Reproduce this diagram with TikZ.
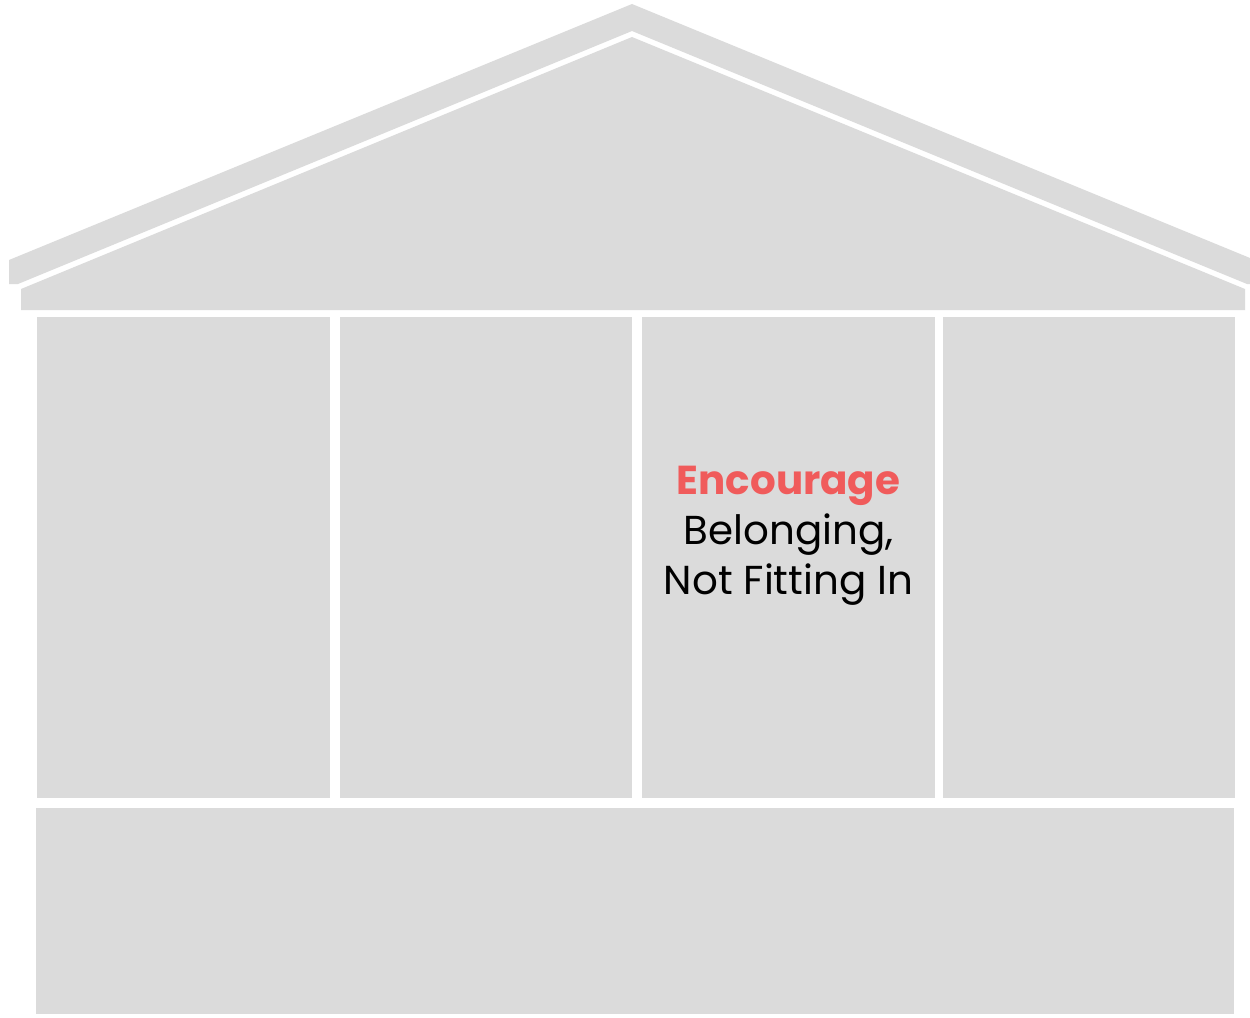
\documentclass[tikz,border=0pt]{standalone}
\usepackage{fontspec}
\setmainfont{Poppins}
\usepackage{xcolor}
\usepackage{tikz}
\usetikzlibrary{positioning}
\definecolor{housegray}{RGB}{219,219,219}
\definecolor{accentred}{RGB}{240,91,91}
\tikzset{
  housepart/.style={
    fill=housegray, draw=none
  },
  pillartext/.style={
    align=center, inner sep=0pt, text=black,
    font=\fontsize{23}{28.6}\selectfont
  },
}

\begin{document}
\begin{tikzpicture}[x=0.02cm, y=-0.02cm]
  \useasboundingbox (0,0) rectangle (1250,1017);

  % Roof
  \fill[housepart] (9,260) -- (632,4) -- (1250,258) -- (1250,284)
        -- (1247,284) -- (632,31) -- (18,284) -- (9,284) -- cycle;
  \fill[housepart] (21,310) -- (21,289) -- (632,37) -- (1245,289)
        -- (1245,310) -- cycle;

  % Pillars
  \fill[housepart] (37,317)  rectangle (330,798);
  \fill[housepart] (340,317) rectangle (632,798);
  \fill[housepart] (642,317) rectangle (935,798);
  \fill[housepart] (943,317) rectangle (1235,798);
  \coordinate (pillarC) at (788.5,536);

  % Foundation
  \fill[housepart] (36,808) rectangle (1234,1014);

  % Label
  \node[pillartext] (belonging) at (pillarC)
        {\textcolor{accentred}{\bfseries Encourage}\\Belonging,\\Not Fitting In};
\end{tikzpicture}
\end{document}
